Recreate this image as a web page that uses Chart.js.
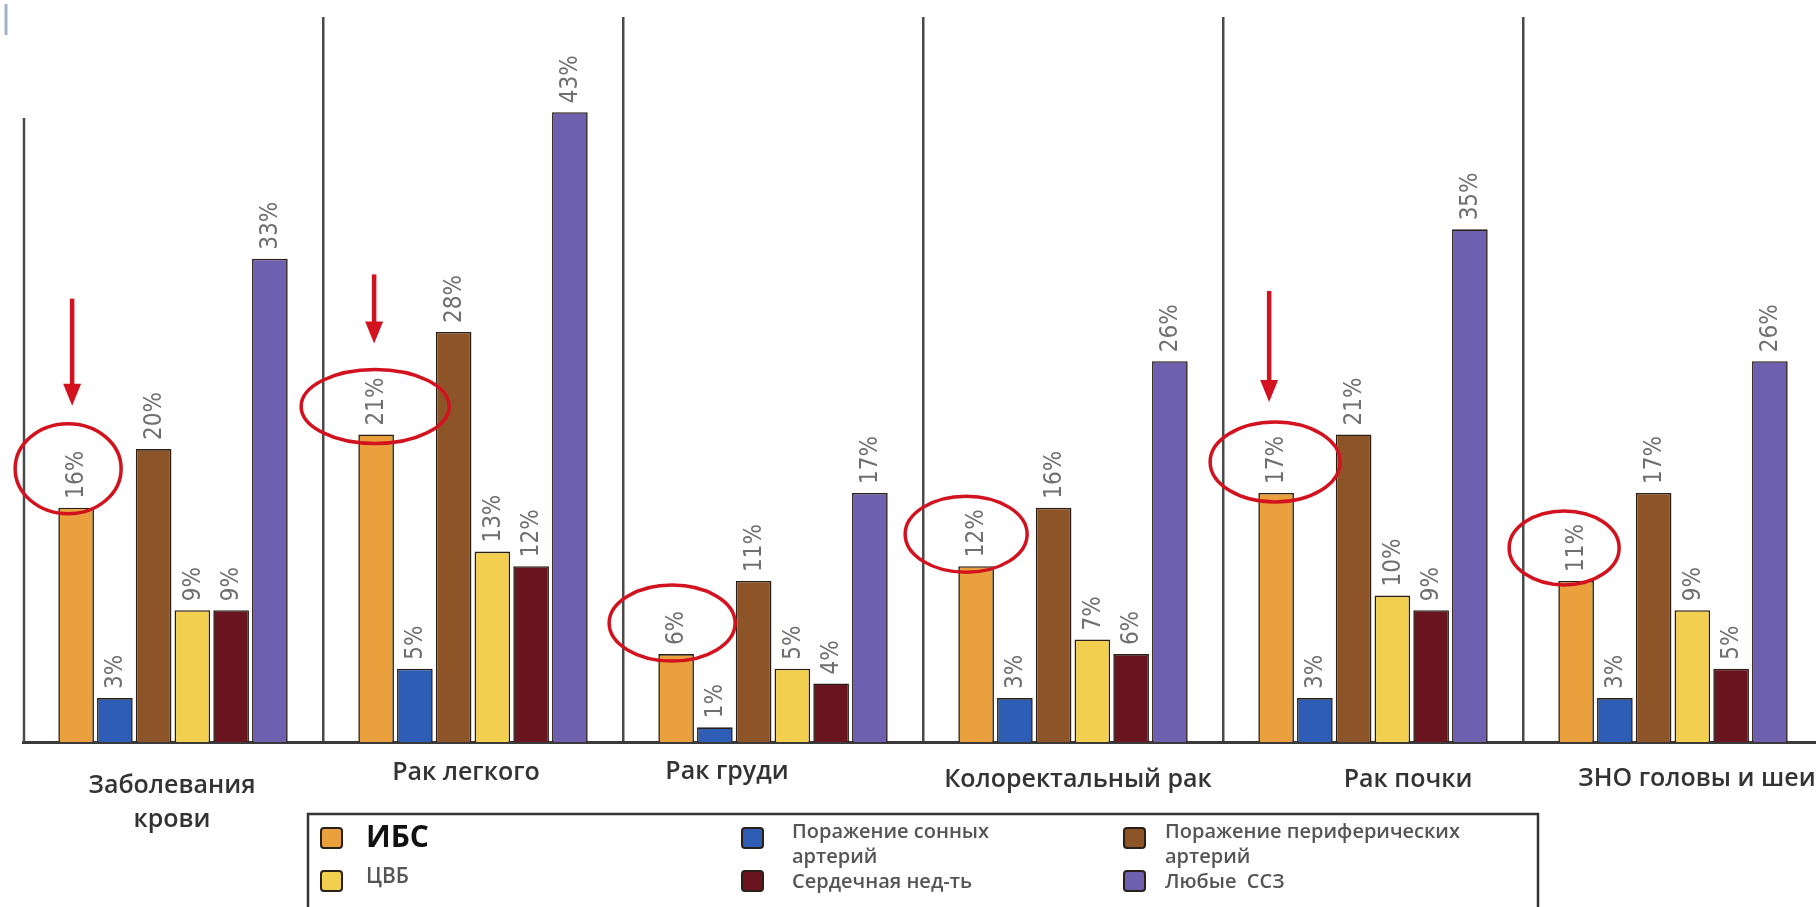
<!DOCTYPE html>
<html>
<head>
<meta charset="utf-8">
<script src="https://cdn.jsdelivr.net/npm/chart.js@4.4.1/dist/chart.umd.min.js"></script>
<style>
  html, body { margin: 0; padding: 0; background: #ffffff; overflow: hidden; width: 1816px; height: 907px; }
  #wrap { position: relative; width: 1816px; height: 907px; overflow: hidden; }
  #c { position: absolute; left: 0; top: 0; }
</style>
</head>
<body>
<div id="wrap"><canvas id="c" width="1830" height="907"></canvas></div>
<script>
// Cancer type groups
const categories = [['Заболевания', 'крови'], 'Рак легкого', 'Рак груди', 'Колоректальный рак', 'Рак почки', 'ЗНО головы и шеи'];

// Share of patients with each cardiovascular condition, %
const ibs          = [16, 21, 6, 12, 17, 11];
const carotid      = [3, 5, 1, 3, 3, 3];
const peripheral   = [20, 28, 11, 16, 21, 17];
const cvd          = [9, 13, 5, 7, 10, 9];
const heartFailure = [9, 12, 4, 6, 9, 5];
const anyCvd       = [33, 43, 17, 26, 35, 26];

const seriesNames = ['ИБС', 'Поражение сонных артерий', 'Поражение периферических артерий', 'ЦВБ', 'Сердечная нед-ть', 'Любые  ССЗ'];
const seriesColors = ['#E9A03D', '#2D5DB4', '#8D5428', '#F2CF4E', '#6A1420', '#6C60AF'];

// Groups whose ИБС label is ringed, and those that also get a pointer arrow
const ringedGroups = [0, 1, 2, 3, 4, 5];
const arrowGroups  = [0, 1, 4];

// ---- styling (pixels) ----
const ringStyle = {
  rx: [53, 74, 63, 61, 65, 55],
  ry: [45, 37, 38, 38, 40, 37],
  dx: [-8, -1, -4, -10, -1, -12],
  rise: [39, 28, 31, 32, 31, 33]
};
const arrowStyle = { dx: [-4, -2, 0, 0, -7, 0], len: [107, 69, 0, 0, 111, 0], gap: [18, 26, 0, 0, 20, 0] };
const labelShift = [-1, -7, -46, 5, 35, 24];
const labelY = [[786, 820], [773], [772], [780], [780], [779]];

const RED = '#D3121F';

const valueLabels = {
  id: 'valueLabels',
  afterDatasetsDraw(chart) {
    const ctx = chart.ctx;
    ctx.save();
    ctx.fillStyle = '#6f6f6f';
    ctx.font = '24px "Liberation Sans Narrow", "DejaVu Sans Condensed", sans-serif';
    ctx.textAlign = 'left';
    ctx.textBaseline = 'middle';
    chart.data.datasets.forEach((ds, di) => {
      chart.getDatasetMeta(di).data.forEach((el, i) => {
        ctx.save();
        ctx.translate(el.x + 1, el.y - 9);
        ctx.rotate(-Math.PI / 2);
        ctx.fillText(ds.data[i] + '%', 0, 0);
        ctx.restore();
      });
    });
    ctx.restore();
  }
};

const separators = {
  id: 'separators',
  beforeDatasetsDraw(chart) {
    const { ctx, chartArea } = chart;
    ctx.save();
    ctx.strokeStyle = '#4a4a4a';
    ctx.lineWidth = 2.5;
    ctx.beginPath();
    ctx.moveTo(chartArea.left + 1, 118);
    ctx.lineTo(chartArea.left + 1, chartArea.bottom);
    ctx.stroke();
    // faint mark in the top-left corner
    ctx.strokeStyle = '#9fb2c8';
    ctx.lineWidth = 3;
    ctx.beginPath();
    ctx.moveTo(6, 4);
    ctx.lineTo(6, 35);
    ctx.stroke();
    ctx.restore();
  }
};

const highlights = {
  id: 'highlights',
  afterDraw(chart) {
    const ctx = chart.ctx;
    const meta = chart.getDatasetMeta(0);
    ctx.save();
    ringedGroups.forEach(g => {
      const el = meta.data[g];
      const cx = el.x + ringStyle.dx[g];
      const cy = el.y - ringStyle.rise[g];
      ctx.strokeStyle = RED;
      ctx.lineWidth = 3.5;
      ctx.beginPath();
      ctx.ellipse(cx, cy, ringStyle.rx[g], ringStyle.ry[g], 0, 0, Math.PI * 2);
      ctx.stroke();
    });
    arrowGroups.forEach(g => {
      const el = meta.data[g];
      const x = el.x + arrowStyle.dx[g];
      const tip = el.y - ringStyle.rise[g] - ringStyle.ry[g] - arrowStyle.gap[g];
      const headH = 22, headW = 18;
      ctx.strokeStyle = RED;
      ctx.fillStyle = RED;
      ctx.lineWidth = 4.5;
      ctx.beginPath();
      ctx.moveTo(x, tip - arrowStyle.len[g]);
      ctx.lineTo(x, tip - headH + 2);
      ctx.stroke();
      ctx.beginPath();
      ctx.moveTo(x - headW / 2, tip - headH);
      ctx.lineTo(x + headW / 2, tip - headH);
      ctx.lineTo(x, tip);
      ctx.closePath();
      ctx.fill();
    });
    ctx.restore();
  }
};

const categoryLabels = {
  id: 'categoryLabels',
  afterDraw(chart) {
    const ctx = chart.ctx;
    const xs = chart.scales.x;
    ctx.save();
    ctx.fillStyle = '#333333';
    ctx.font = '600 25px "Open Sans", sans-serif';
    ctx.textAlign = 'center';
    ctx.textBaseline = 'middle';
    categories.forEach((c, i) => {
      const lines = Array.isArray(c) ? c : [c];
      const x = xs.getPixelForValue(i) + labelShift[i];
      lines.forEach((t, k) => ctx.fillText(t, x, labelY[i][k]));
    });
    ctx.restore();
  }
};

const legendBox = {
  id: 'legendBox',
  afterDraw(chart) {
    const ctx = chart.ctx;
    ctx.save();
    ctx.strokeStyle = '#333333';
    ctx.lineWidth = 2.5;
    ctx.strokeRect(308, 814, 1538 - 308, 95);

    const swatch = (x, y, color) => {
      ctx.save();
      ctx.fillStyle = color;
      ctx.strokeStyle = '#2a2018';
      ctx.lineWidth = 2;
      ctx.beginPath();
      ctx.roundRect(x, y, 21, 20, 3);
      ctx.fill();
      ctx.stroke();
      ctx.restore();
    };
    ctx.textAlign = 'left';
    ctx.textBaseline = 'middle';

    // column 1
    swatch(321, 828, seriesColors[0]);
    swatch(321, 871, seriesColors[3]);
    ctx.fillStyle = '#111111';
    ctx.font = 'bold 30px "Open Sans", sans-serif';
    ctx.fillText(seriesNames[0], 366, 838);
    ctx.fillStyle = '#555555';
    ctx.font = '600 21px "Open Sans", sans-serif';
    ctx.fillText(seriesNames[3], 366, 877);

    // column 2
    swatch(742, 828, seriesColors[1]);
    swatch(742, 871, seriesColors[4]);
    ctx.fillStyle = '#555555';
    ctx.font = '600 20px "Open Sans", sans-serif';
    ctx.fillText('Поражение сонных', 792, 832);
    ctx.fillText('артерий', 792, 857);
    ctx.fillText(seriesNames[4], 792, 882);

    // column 3
    swatch(1124, 828, seriesColors[2]);
    swatch(1124, 871, seriesColors[5]);
    ctx.fillStyle = '#555555';
    ctx.fillText('Поражение периферических', 1165, 832);
    ctx.fillText('артерий', 1165, 857);
    ctx.fillText(seriesNames[5], 1165, 882);
    ctx.restore();
  }
};

const seriesData = [ibs, carotid, peripheral, cvd, heartFailure, anyCvd];

new Chart(document.getElementById('c'), {
  type: 'bar',
  data: {
    labels: categories,
    datasets: seriesNames.map((name, i) => ({
      label: name,
      data: seriesData[i],
      backgroundColor: seriesColors[i],
      borderColor: '#2a1f17',
      borderWidth: 1.6,
      categoryPercentage: 0.775,
      barPercentage: 0.92
    }))
  },
  options: {
    responsive: false,
    animation: false,
    devicePixelRatio: 1,
    layout: { padding: { left: 23, right: 7, top: 17, bottom: 165 } },
    plugins: { legend: { display: false }, tooltip: { enabled: false } },
    scales: {
      x: {
        offset: true,
        ticks: { display: false },
        grid: {
          offset: true,
          drawTicks: false,
          lineWidth: 2.5,
          color: c => (c.index === 0 ? 'rgba(0,0,0,0)' : '#4a4a4a')
        },
        border: { display: true, color: '#3a3a3a', width: 3 }
      },
      y: {
        display: false,
        min: 0,
        max: 49.5
      }
    }
  },
  plugins: [separators, valueLabels, highlights, categoryLabels, legendBox]
});
</script>
</body>
</html>
